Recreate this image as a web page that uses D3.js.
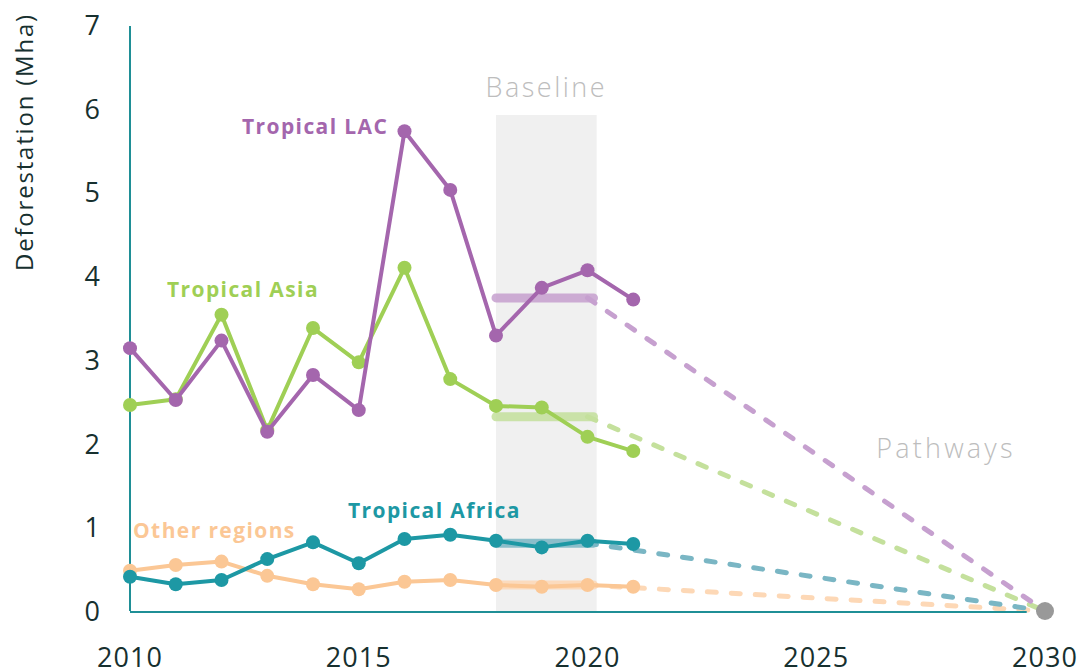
<!DOCTYPE html>
<html>
<head>
<meta charset="utf-8">
<script src="https://cdn.jsdelivr.net/npm/d3@7"></script>
<style>
  body { margin: 0; background: #fff; }
  svg { font-family: "Open Sans", "Noto Sans", sans-serif; }
</style>
</head>
<body>
<script>
// data
var years = [2010, 2011, 2012, 2013, 2014, 2015, 2016, 2017, 2018, 2019, 2020, 2021];
var lacValues = [3.14, 2.52, 3.23, 2.14, 2.82, 2.40, 5.73, 5.03, 3.29, 3.86, 4.07, 3.72];
var asiaValues = [2.46, 2.53, 3.54, 2.16, 3.38, 2.97, 4.10, 2.77, 2.45, 2.43, 2.08, 1.91];
var africaValues = [0.41, 0.32, 0.37, 0.62, 0.82, 0.57, 0.86, 0.91, 0.84, 0.76, 0.84, 0.80];
var otherValues = [0.48, 0.55, 0.59, 0.42, 0.32, 0.26, 0.35, 0.37, 0.31, 0.29, 0.31, 0.29];
var seriesNames = ["Tropical LAC", "Tropical Asia", "Tropical Africa", "Other regions"];
var baselineValues = [3.74, 2.32, 0.81, 0.31];
var baselineYears = [2018, 2020];
var targetYear = 2030, targetValue = 0;
var xTicks = [2010, 2015, 2020, 2025, 2030];
var yTicks = [0, 1, 2, 3, 4, 5, 6, 7];

var colors = ["#a466ad", "#9fcf55", "#1d98a4", "#fbc795"];
var paleColors = ["#c6a0cf", "#c4e09c", "#7ab6c4", "#fdd8b6"];
var labelPos = [[242, 134], [167, 297], [348, 518], [133, 538]];

var width = 1089, height = 672;
var x = d3.scaleLinear().domain([2010, 2030]).range([130, 1045]);
var y = d3.scaleLinear().domain([0, 7]).range([611, 25]);

var svg = d3.select("body").append("svg")
  .attr("width", width).attr("height", height);

// baseline band
svg.append("rect")
  .attr("x", x(2018)).attr("width", x(2020.2) - x(2018))
  .attr("y", 115).attr("height", y(0) - 115)
  .attr("fill", "#f0f0f0");
svg.append("text").attr("x", x(2019.1)).attr("y", 97)
  .attr("text-anchor", "middle").attr("font-size", 27).attr("font-weight", 300)
  .attr("letter-spacing", 2.5)
  .attr("fill", "#bdbdbd").text("Baseline");
svg.append("text").attr("x", 946).attr("y", 458)
  .attr("text-anchor", "middle").attr("font-size", 27).attr("font-weight", 300)
  .attr("letter-spacing", 3.2)
  .attr("fill", "#bdbdbd").text("Pathways");

var allSeries = [lacValues, asiaValues, africaValues, otherValues];

// baseline thick lines and dashed pathways (draw back to front)
var order = [3, 2, 1, 0];
order.forEach(function(i) {
  svg.append("line")
    .attr("x1", x(baselineYears[0])).attr("x2", x(baselineYears[1]) + 6)
    .attr("y1", y(baselineValues[i])).attr("y2", y(baselineValues[i]))
    .attr("stroke", paleColors[i]).attr("stroke-width", 9)
    .attr("stroke-linecap", "round").attr("opacity", 0.85);
  svg.append("line")
    .attr("x1", x(baselineYears[1])).attr("y1", y(baselineValues[i]))
    .attr("x2", x(targetYear)).attr("y2", y(targetValue))
    .attr("stroke", paleColors[i]).attr("stroke-width", 5)
    .attr("stroke-linecap", "round")
    .attr("stroke-dasharray", "9,15");
});

// axes lines
svg.append("line").attr("x1", x(2010)).attr("x2", x(2010))
  .attr("y1", 26).attr("y2", y(0)).attr("stroke", "#1f8f96").attr("stroke-width", 2);
svg.append("line").attr("x1", x(2010)).attr("x2", x(2029.6))
  .attr("y1", y(0) + 1).attr("y2", y(0) + 1).attr("stroke", "#1f8f96").attr("stroke-width", 2);

// series
var line = d3.line()
  .x(function(d, i) { return x(years[i]); })
  .y(function(d) { return y(d); });

order.forEach(function(i) {
  var g = svg.append("g");
  g.append("path").datum(allSeries[i])
    .attr("d", line).attr("fill", "none")
    .attr("stroke", colors[i]).attr("stroke-width", 4)
    .attr("stroke-linejoin", "round");
  g.selectAll("circle").data(allSeries[i]).enter().append("circle")
    .attr("cx", function(d, j) { return x(years[j]); })
    .attr("cy", function(d) { return y(d); })
    .attr("r", 7).attr("fill", colors[i]);
  svg.append("text").attr("x", labelPos[i][0]).attr("y", labelPos[i][1])
    .attr("font-size", 21).attr("font-weight", 700)
    .attr("letter-spacing", 1.4)
    .attr("fill", colors[i]).text(seriesNames[i]);
});

// target dot
svg.append("circle").attr("cx", x(targetYear)).attr("cy", y(targetValue))
  .attr("r", 9).attr("fill", "#999");

// tick labels
svg.selectAll(".ytick").data(yTicks).enter().append("text")
  .attr("class", "ytick")
  .attr("x", 100).attr("y", function(d) { return y(d) + 10; })
  .attr("text-anchor", "end").attr("font-size", 27)
  .attr("fill", "#17302f").text(function(d) { return d; });
svg.selectAll(".xtick").data(xTicks).enter().append("text")
  .attr("class", "xtick")
  .attr("x", function(d) { return x(d); }).attr("y", 667)
  .attr("text-anchor", "middle").attr("font-size", 27).attr("letter-spacing", 1)
  .attr("fill", "#17302f").text(function(d) { return d; });

svg.append("text")
  .attr("transform", "translate(33,142) rotate(-90)")
  .attr("text-anchor", "middle").attr("font-size", 24).attr("letter-spacing", 1.8)
  .attr("fill", "#17302f").text("Deforestation (Mha)");
</script>
</body>
</html>
